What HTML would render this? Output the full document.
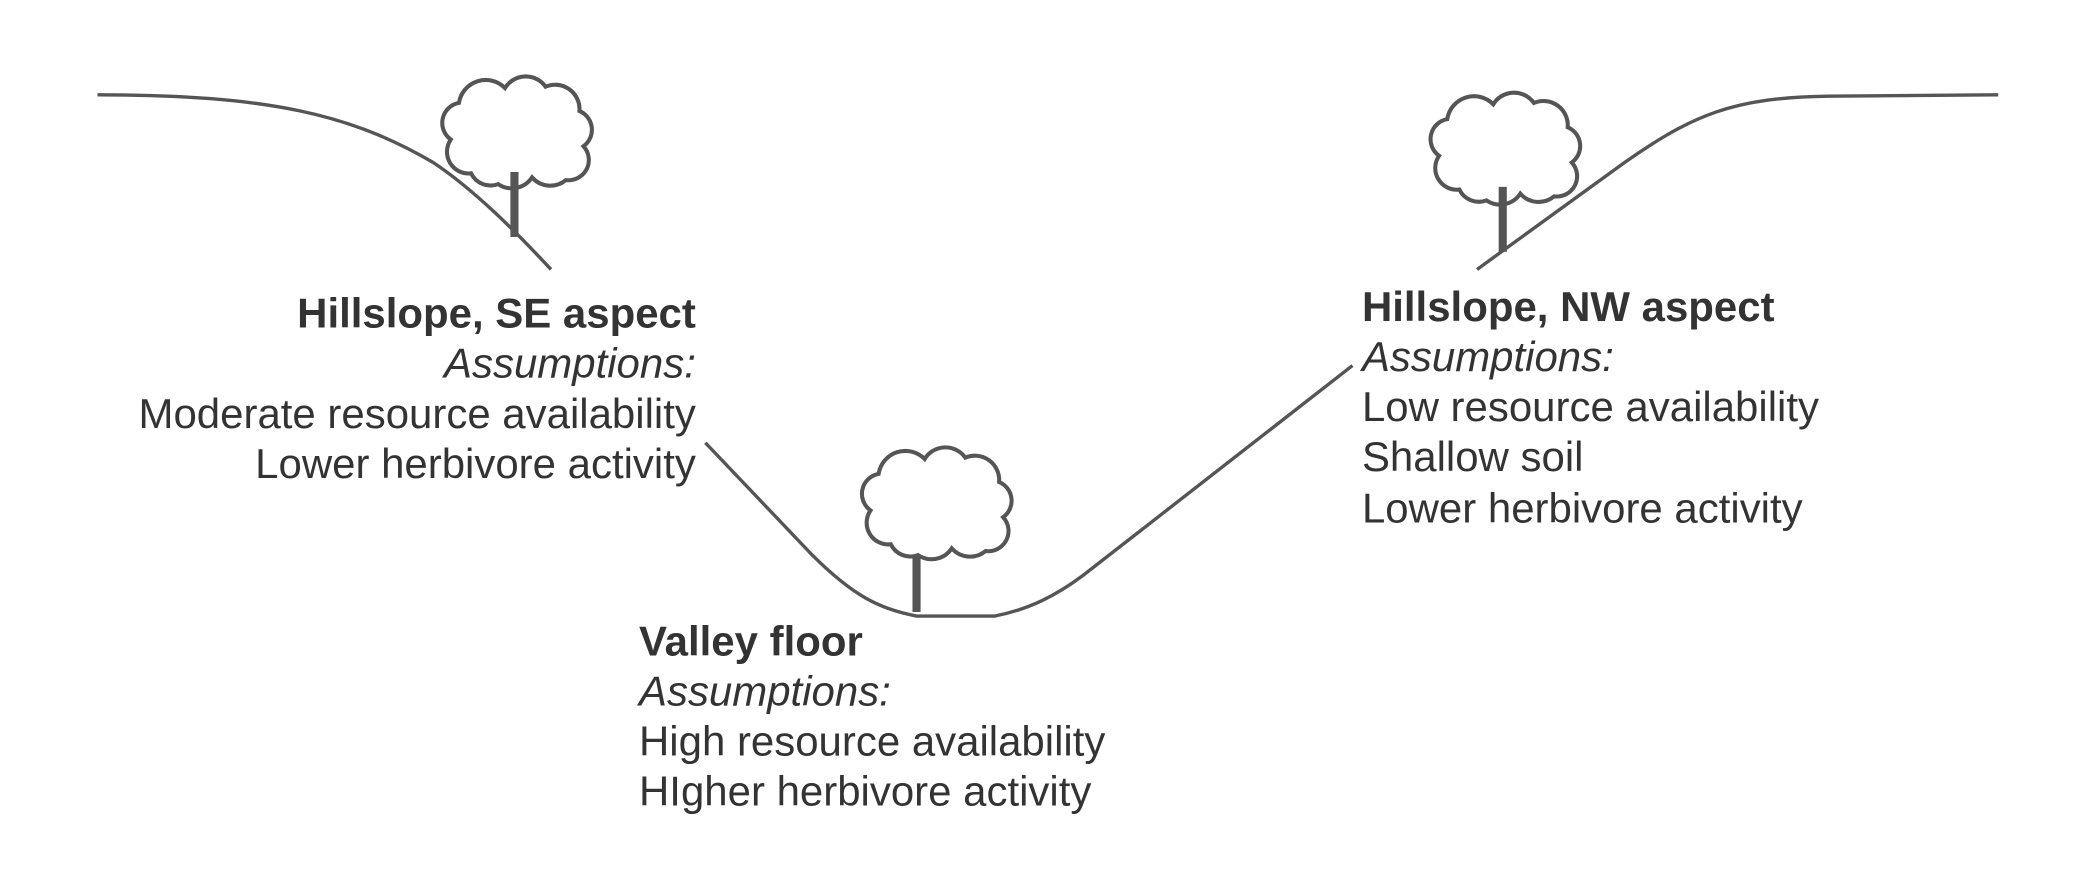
<!DOCTYPE html>
<html><head><style>
html,body{margin:0;padding:0;background:#fff;}
svg{display:block;}
text{font-family:"Liberation Sans",sans-serif;fill:#333;font-size:31px;}
</style></head><body>
<svg width="2093" height="876" viewBox="0 0 1546 647" xmlns="http://www.w3.org/2000/svg">
<defs>
<path id="cloud" d="M 25,70 A 16 16 0 0 1 10 45 A 15 15 0 0 1 16 18 A 20 20 0 0 1 50 7 A 18 18 0 0 1 80 6 A 18 18 0 0 1 105 24 A 15 15 0 0 1 108 50 A 15 15 0 0 1 95 75 A 18 18 0 0 1 70 73 A 18 18 0 0 1 45 78 A 16 16 0 0 1 25 70 Z" fill="#fff" stroke="#555" stroke-width="3"/>
</defs>
<g fill="none" stroke="#555" stroke-width="2.5">
<path d="M72,70 C200,70 260,85 320,120 C350,140 380,170 407,199"/>
<path d="M521,327 L600,410 C630,440 650,450 677,455 L735,455 C760,450 780,440 800,425 L999,270"/>
<path d="M1091,199 L1200,120 C1250,85 1280,72 1350,71 L1476,70"/>
</g>
<g><use href="#cloud" transform="translate(323,58)"/><rect x="377" y="127" width="6" height="48" fill="#555"/></g>
<g><use href="#cloud" transform="translate(1053,70)"/><rect x="1107" y="138" width="6" height="48" fill="#555"/></g>
<g><use href="#cloud" transform="translate(633,332)"/><rect x="674" y="410" width="6" height="42" fill="#555"/></g>
<g text-anchor="end">
<text x="514" y="242" font-weight="bold">Hillslope, SE aspect</text>
<text x="514" y="279" font-style="italic">Assumptions:</text>
<text x="514" y="316">Moderate resource availability</text>
<text x="514" y="353">Lower herbivore activity</text>
</g>
<g>
<text x="1006" y="237" font-weight="bold">Hillslope, NW aspect</text>
<text x="1006" y="274" font-style="italic">Assumptions:</text>
<text x="1006" y="311">Low resource availability</text>
<text x="1006" y="348">Shallow soil</text>
<text x="1006" y="386">Lower herbivore activity</text>
</g>
<g>
<text x="472" y="484" font-weight="bold">Valley floor</text>
<text x="472" y="521" font-style="italic">Assumptions:</text>
<text x="472" y="558">High resource availability</text>
<text x="472" y="595">HIgher herbivore activity</text>
</g>
</svg>
</body></html>
